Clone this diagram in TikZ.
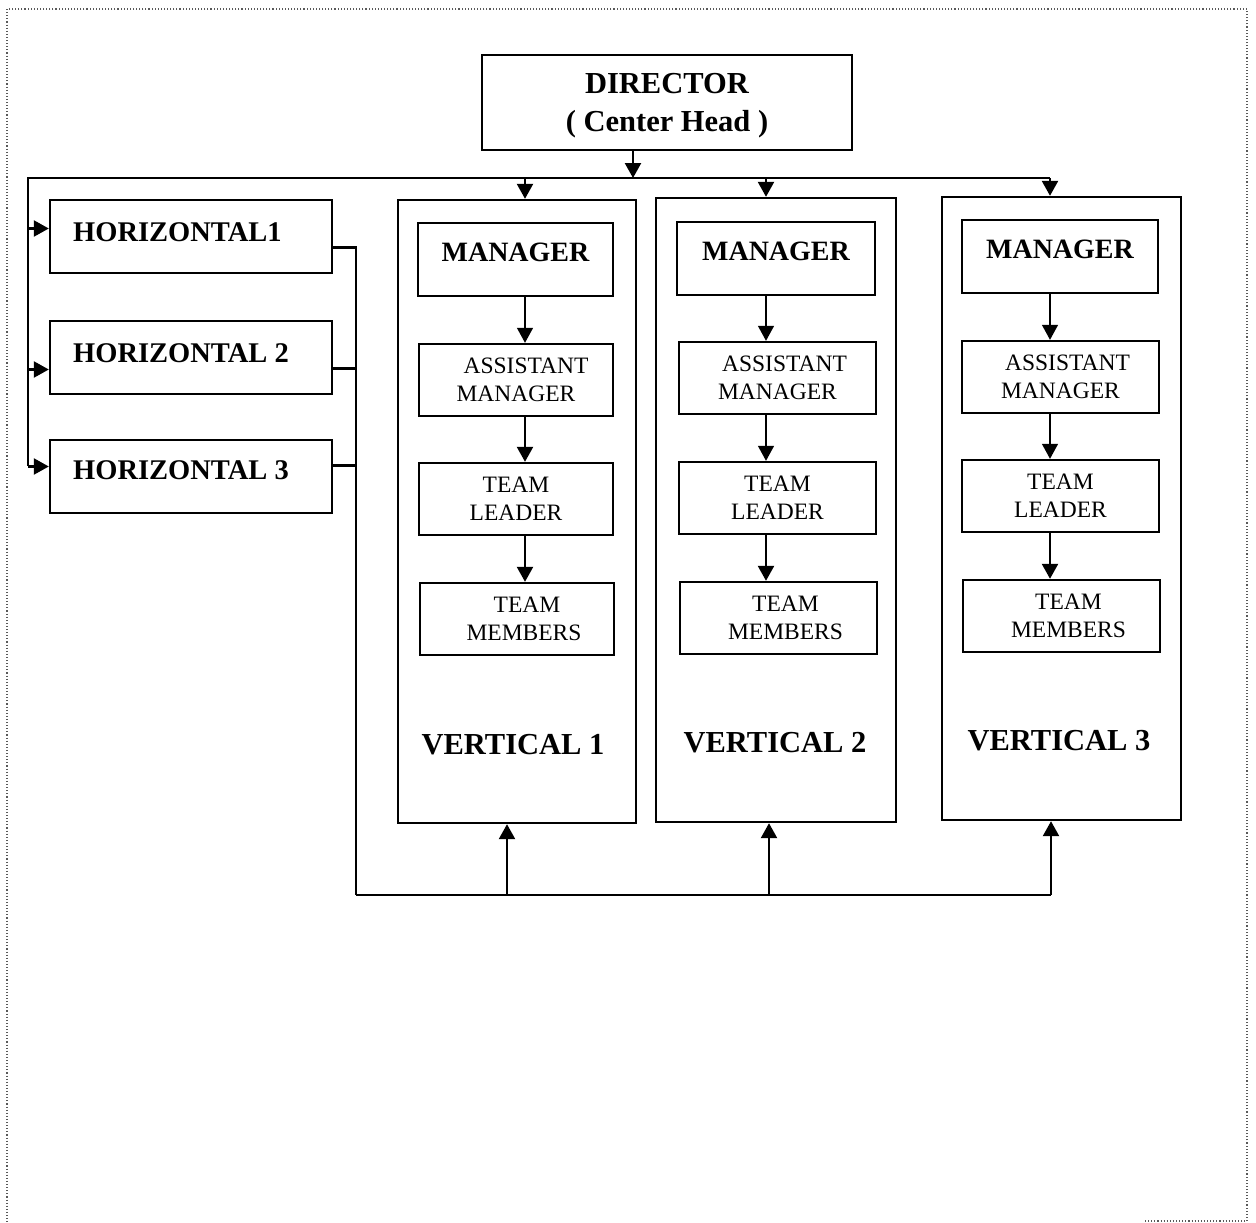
\documentclass[tikz,border=0pt]{standalone}
\usepackage{fontspec}
\setmainfont{Liberation Serif}
\usetikzlibrary{arrows.meta,calc}
\begin{document}
\begin{tikzpicture}[x=1pt,y=-1pt,
  box/.style={draw,line width=2.4pt,inner sep=0pt,align=center},
  bigtxt/.style={font=\fontsize{30.5}{38}\selectfont\bfseries,align=center,inner sep=0pt},
  mgrtxt/.style={font=\fontsize{28}{32}\selectfont\bfseries},
  smalltxt/.style={font=\fontsize{23.5}{27.5}\selectfont},
  htxt/.style={font=\fontsize{28.5}{32}\selectfont\bfseries,anchor=west,inner sep=0pt},
  vtxt/.style={font=\fontsize{30.5}{34}\selectfont\bfseries,inner sep=0pt},
  conn/.style={line width=2.4pt},
  arr/.style={line width=2.4pt,-{Triangle[width=16pt,length=15pt]}},
  thinarr/.style={line width=1.4pt,-{Triangle[width=16pt,length=15pt]}},
  border/.style={dotted,line width=1.1pt,black!65}]
\useasboundingbox (0,0) rectangle (1256,1223);
% page border (scan frame)
\draw[border] (1247,1221) -- (1247,9) -- (7,9) -- (7,1223);
\draw[border] (1145,1221) -- (1247,1221);

% director
\node[box,minimum width=370,minimum height=95] (dir) at (667,102.5) {};
\node[bigtxt] (dirt) at (667,106) {DIRECTOR\\( Center Head )};

% horizontals
\node[box,minimum width=282,minimum height=73] (h1) at (191,236.5) {};
\node[box,minimum width=282,minimum height=73] (h2) at (191,357.5) {};
\node[box,minimum width=282,minimum height=73] (h3) at (191,476.5) {};
\node[htxt] (h1t) at (73,232) {HORIZONTAL1};
\node[htxt] (h2t) at (73,353) {HORIZONTAL 2};
\node[htxt] (h3t) at (73,470) {HORIZONTAL 3};

% vertical containers
\node[box,minimum width=238,minimum height=623] (v1) at (517,511.5) {};
\node[box,minimum width=240,minimum height=624] (v2) at (776,510) {};
\node[box,minimum width=239,minimum height=623] (v3) at (1061.5,508.5) {};
\node[vtxt] (v1t) at (513,745) {VERTICAL 1};
\node[vtxt] (v2t) at (775,743) {VERTICAL 2};
\node[vtxt] (v3t) at (1059,741) {VERTICAL 3};

% vertical 1 boxes
\node[box,mgrtxt,minimum width=195,minimum height=73,text depth=14pt] (m1) at (515.5,259.5) {MANAGER};
\node[box,smalltxt,minimum width=194,minimum height=72] (a1) at (516,380) {\hspace*{20pt}ASSISTANT\\MANAGER};
\node[box,smalltxt,minimum width=194,minimum height=72] (l1) at (516,499) {TEAM\\LEADER};
\node[box,smalltxt,minimum width=194,minimum height=72] (tm1) at (517,619) {\hspace*{20pt}TEAM\\\hspace*{14pt}MEMBERS};

% vertical 2 boxes
\node[box,mgrtxt,minimum width=198,minimum height=73,text depth=14pt] (m2) at (776,258.5) {MANAGER};
\node[box,smalltxt,minimum width=197,minimum height=72] (a2) at (777.5,378) {\hspace*{14pt}ASSISTANT\\MANAGER};
\node[box,smalltxt,minimum width=197,minimum height=72] (l2) at (777.5,498) {TEAM\\LEADER};
\node[box,smalltxt,minimum width=197,minimum height=72] (tm2) at (778.5,618) {\hspace*{14pt}TEAM\\\hspace*{14pt}MEMBERS};

% vertical 3 boxes
\node[box,mgrtxt,minimum width=196,minimum height=73,text depth=14pt] (m3) at (1060,256.5) {MANAGER};
\node[box,smalltxt,minimum width=197,minimum height=72] (a3) at (1060.5,377) {\hspace*{14pt}ASSISTANT\\MANAGER};
\node[box,smalltxt,minimum width=197,minimum height=72] (l3) at (1060.5,496) {TEAM\\LEADER};
\node[box,smalltxt,minimum width=197,minimum height=72] (tm3) at (1061.5,616) {\hspace*{14pt}TEAM\\\hspace*{14pt}MEMBERS};

% bus coordinates
\coordinate (tap) at (633,178);
\coordinate (busL) at (28,178);
\coordinate (busLB) at (28,466);
\coordinate (t1) at (525,178);
\coordinate (t2) at (766,178);
\coordinate (t3) at (1050,178);
\coordinate (hr) at (356,895);
\coordinate (b1) at (507,895);
\coordinate (b2) at (769,895);
\coordinate (b3) at (1051,895);

% director to top bus
\draw[arr] (dir.south -| tap) -- (tap);
\draw[conn,line join=miter] (t3) -- (busL) -- (busLB);
\draw[arr] (t1) -- (t1 |- v1.north);
\draw[arr] (t2) -- (t2 |- v2.north);
\draw[arr] (t3) -- (t3 |- v3.north);

% left bus into horizontals
\draw[arr] ([yshift=8pt]h1.west -| busL) -- ([yshift=8pt]h1.west);
\draw[arr] ([yshift=-12pt]h2.west -| busL) -- ([yshift=-12pt]h2.west);
\draw[arr] ([yshift=10pt]h3.west -| busL) -- ([yshift=10pt]h3.west);

% horizontals to bottom bus
\draw[conn] ([yshift=-11pt]h1.east) -| (hr);
\draw[conn] ([yshift=-11pt]h2.east) -- ([yshift=-11pt]h2.east -| hr);
\draw[conn] ([yshift=11pt]h3.east) -- ([yshift=11pt]h3.east -| hr);
\draw[conn] (hr) -- (b3);
\draw[arr] (b1) -- (b1 |- v1.south);
\draw[arr] (b2) -- (b2 |- v2.south);
\draw[arr] (b3) -- (b3 |- v3.south);

% inner arrows
\draw[thinarr] (m1.south -| t1) -- (a1.north -| t1);
\draw[arr] (a1.south -| t1) -- (l1.north -| t1);
\draw[arr] (l1.south -| t1) -- (tm1.north -| t1);
\draw[thinarr] (m2.south -| t2) -- (a2.north -| t2);
\draw[thinarr] (a2.south -| t2) -- (l2.north -| t2);
\draw[arr] (l2.south -| t2) -- (tm2.north -| t2);
\draw[thinarr] (m3.south -| t3) -- (a3.north -| t3);
\draw[thinarr] (a3.south -| t3) -- (l3.north -| t3);
\draw[arr] (l3.south -| t3) -- (tm3.north -| t3);
\end{tikzpicture}
\end{document}
